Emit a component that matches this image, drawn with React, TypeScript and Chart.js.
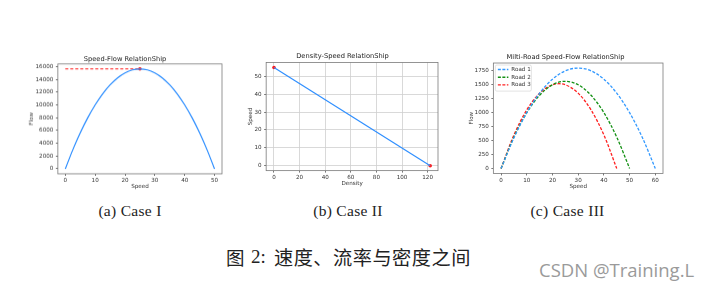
import React, { useEffect, useRef } from "react";
import { Chart, registerables } from "chart.js";

Chart.register(...registerables);

// ---------- Data ----------
// (a) Speed-Flow
const speedA = [0, 2.5, 5, 7.5, 10, 12.5, 15, 17.5, 20, 22.5, 25, 27.5, 30, 32.5, 35, 37.5, 40, 42.5, 45, 47.5, 50];
const flowA = [0, 2970, 5625, 7970, 10000, 11720, 13125, 14220, 15000, 15470, 15625, 15470, 15000, 14220, 13125, 11720, 10000, 7970, 5625, 2970, 0];
const maxFlowSpeedA = [0, 25];
const maxFlowA = [15625, 15625];
const xTicksA = [0, 10, 20, 30, 40, 50];
const yTicksA = [0, 2000, 4000, 6000, 8000, 10000, 12000, 14000, 16000];

// (b) Density-Speed
const densityB = [0, 122];
const speedB = [55, 0];
const xTicksB = [0, 20, 40, 60, 80, 100, 120];
const yTicksB = [0, 10, 20, 30, 40, 50];

// (c) Multi-road
const roadNames = ["Road 1", "Road 2", "Road 3"];
const road1Speed = [0, 5, 10, 15, 20, 25, 30, 35, 40, 45, 50, 55, 60];
const road1Flow = [0, 550, 1000, 1350, 1600, 1750, 1800, 1750, 1600, 1350, 1000, 550, 0];
const road2Speed = [0, 5, 10, 15, 20, 25, 30, 35, 40, 45, 50];
const road2Flow = [0, 562, 1000, 1312, 1500, 1562, 1500, 1312, 1000, 562, 0];
const road3Speed = [0, 5, 10, 15, 20, 22.5, 25, 30, 35, 40, 45];
const road3Flow = [0, 600, 1050, 1350, 1500, 1519, 1500, 1350, 1050, 600, 0];
const xTicksC = [0, 10, 20, 30, 40, 50, 60];
const yTicksC = [0, 250, 500, 750, 1000, 1250, 1500, 1750];

const titles = ["Speed-Flow RelationShip", "Density-Speed RelationShip", "Milti-Road Speed-Flow RelationShip"];
const captions = ["(a) Case I", "(b) Case II", "(c) Case III"];

const BLUE = "#2f8fff";
const FONT = "'DejaVu Sans', sans-serif";

const pts = (xs: number[], ys: number[]) => xs.map((x, i) => ({ x, y: ys[i] }));

// spine box plugin
const boxPlugin = {
  id: "spineBox",
  afterDatasetsDraw(chart: any) {
    const { ctx, chartArea: a } = chart;
    ctx.save();
    ctx.strokeStyle = "#7a7a7a";
    ctx.lineWidth = 0.8;
    ctx.strokeRect(a.left, a.top, a.right - a.left, a.bottom - a.top);
    ctx.restore();
  },
};

// legend inside chart area (dashed samples)
const innerLegend = {
  id: "innerLegend",
  afterDatasetsDraw(chart: any, _args: any, opts: any) {
    if (!opts || !opts.enabled) return;
    const { ctx, chartArea: a } = chart;
    const ds = chart.data.datasets;
    const x0 = a.left + 2;
    const y0 = a.top + 2;
    const w = 36;
    const rowH = 7.7;
    const h = ds.length * rowH + 3;
    ctx.save();
    ctx.fillStyle = "rgba(255,255,255,0.85)";
    ctx.strokeStyle = "#d0d0d0";
    ctx.lineWidth = 0.6;
    ctx.beginPath();
    (ctx as any).roundRect(x0, y0, w, h, 1.5);
    ctx.fill();
    ctx.stroke();
    ctx.font = `5.6px ${FONT}`;
    ctx.textBaseline = "middle";
    ds.forEach((d: any, i: number) => {
      const cy = y0 + 4.5 + i * rowH;
      ctx.strokeStyle = d.borderColor;
      ctx.lineWidth = 1.4;
      ctx.setLineDash([3, 1.5]);
      ctx.beginPath();
      ctx.moveTo(x0 + 2.5, cy);
      ctx.lineTo(x0 + 13, cy);
      ctx.stroke();
      ctx.setLineDash([]);
      ctx.fillStyle = "#333";
      ctx.fillText(d.label, x0 + 16, cy);
    });
    ctx.restore();
  },
};

type Spec = {
  L: number; R: number; T: number; B: number;
  titleY: number; yTitleX: number; xTitleY: number;
  xMin: number; xMax: number; yMin: number; yMax: number;
  xTicks: number[]; yTicks: number[];
  xLabel: string; yLabel: string; title: string;
  grid: boolean;
  datasets: any[];
  legend?: boolean;
};

const TITLE_FS = 6.7;
const AX_FS = 5.6;

function makeConfig(s: Spec) {
  const titleLH = TITLE_FS * 1.2;
  const axLH = AX_FS * 1.2;
  const top = s.titleY - titleLH / 2;
  const left = s.yTitleX - axLH / 2;
  const bottom = s.xTitleY + axLH / 2;
  const right = s.R + 6;
  const yW = s.L - left;
  const xH = bottom - s.B;
  const titlePadBottom = s.T - (top + titleLH);
  const gridOpt = (tl: number) => ({
    display: true,
    drawOnChartArea: s.grid,
    drawTicks: true,
    tickLength: tl,
    color: "#cfcfcf",
    tickColor: "#555",
    lineWidth: 0.8,
  });
  const tickFont = { family: FONT, size: AX_FS };
  const fmt = (v: any) => String(v);
  return {
    canvas: { left, top, width: right - left, height: bottom - top },
    config: {
      type: "scatter",
      data: { datasets: s.datasets },
      options: {
        animation: false,
        responsive: false,
        maintainAspectRatio: false,
        devicePixelRatio: 1,
        layout: { padding: { left: 0, top: 0, right: 6, bottom: 0 } },
        plugins: {
          legend: { display: false },
          tooltip: { enabled: false },
          title: {
            display: true,
            text: s.title,
            color: "#222",
            font: { family: FONT, size: TITLE_FS, weight: "normal" },
            padding: { top: 0, bottom: titlePadBottom },
          },
          innerLegend: { enabled: !!s.legend },
        },
        scales: {
          x: {
            type: "linear",
            min: s.xMin,
            max: s.xMax,
            afterBuildTicks: (sc: any) => { sc.ticks = s.xTicks.map((v) => ({ value: v })); },
            afterFit: (sc: any) => { sc.height = xH; },
            ticks: { font: tickFont, color: "#333", padding: 1.5, maxRotation: 0, autoSkip: false, callback: fmt },
            grid: gridOpt(2),
            border: { display: false },
            title: { display: true, text: s.xLabel, color: "#333", font: tickFont, padding: 0 },
          },
          y: {
            type: "linear",
            min: s.yMin,
            max: s.yMax,
            afterBuildTicks: (sc: any) => { sc.ticks = s.yTicks.map((v) => ({ value: v })); },
            afterFit: (sc: any) => { sc.width = yW; },
            ticks: { font: tickFont, color: "#333", padding: 2.5, autoSkip: false, callback: fmt },
            grid: gridOpt(2),
            border: { display: false },
            title: { display: true, text: s.yLabel, color: "#333", font: tickFont, padding: 0 },
          },
        },
      },
      plugins: [boxPlugin, innerLegend],
    },
  };
}

const line = (data: any[], color: string, width: number, dash: number[] = [], smooth = true) => ({
  data,
  borderColor: color,
  backgroundColor: color,
  borderWidth: width,
  borderDash: dash,
  showLine: true,
  pointRadius: 0,
  tension: smooth ? 0.4 : 0,
  cubicInterpolationMode: smooth ? "monotone" : "default",
  fill: false,
});

const dots = (data: any[], color: string) => ({
  data,
  borderColor: color,
  backgroundColor: color,
  pointRadius: 1.8,
  pointBorderWidth: 0,
  showLine: false,
});

const specs: Spec[] = [
  {
    L: 57.5, R: 222.5, T: 64.3, B: 174,
    titleY: 59.5, yTitleX: 31, xTitleY: 186.7,
    xMin: -2.5, xMax: 52.5, yMin: -781, yMax: 16406,
    xTicks: xTicksA, yTicks: yTicksA,
    xLabel: "Speed", yLabel: "Flow", title: titles[0], grid: false,
    datasets: [
      line(pts(speedA, flowA), BLUE, 1.2),
      line(pts(maxFlowSpeedA, maxFlowA), "#ff1a1a", 1, [3, 2], false),
      dots([{ x: maxFlowSpeedA[1], y: maxFlowA[1] }], "#ff1a1a"),
    ],
  },
  {
    L: 266.5, R: 438.5, T: 62.5, B: 171,
    titleY: 56, yTitleX: 250.7, xTitleY: 184,
    xMin: -6.1, xMax: 128.1, yMin: -2.75, yMax: 57.75,
    xTicks: xTicksB, yTicks: yTicksB,
    xLabel: "Density", yLabel: "Speed", title: titles[1], grid: true,
    datasets: [
      line(pts(densityB, speedB), BLUE, 1.2, [], false),
      dots(pts(densityB, speedB), "#ff1a1a"),
    ],
  },
  {
    L: 493, R: 663, T: 62.7, B: 173.5,
    titleY: 56.7, yTitleX: 471, xTitleY: 186.7,
    xMin: -3, xMax: 63, yMin: -90, yMax: 1890,
    xTicks: xTicksC, yTicks: yTicksC,
    xLabel: "Speed", yLabel: "Flow", title: titles[2], grid: false, legend: true,
    datasets: [
      { ...line(pts(road1Speed, road1Flow), "#3399ff", 1.3, [3, 1.6]), label: roadNames[0] },
      { ...line(pts(road2Speed, road2Flow), "#139013", 1.3, [3, 1.6]), label: roadNames[1] },
      { ...line(pts(road3Speed, road3Flow), "#ff2020", 1.3, [3, 1.6]), label: roadNames[2] },
    ],
  },
];

function SubChart({ spec }: { spec: Spec }) {
  const ref = useRef<HTMLCanvasElement>(null);
  const { canvas, config } = makeConfig(spec);
  useEffect(() => {
    if (!ref.current) return;
    const ch = new Chart(ref.current, config as any);
    return () => ch.destroy();
  }, []);
  return (
    <div
      style={{
        position: "absolute",
        left: canvas.left,
        top: canvas.top,
        width: canvas.width,
        height: canvas.height,
      }}
    >
      <canvas ref={ref} width={canvas.width} height={canvas.height} style={{ width: canvas.width, height: canvas.height }} />
    </div>
  );
}

const serif = "'Liberation Serif', 'DejaVu Serif', serif";

export default function App() {
  const capX = [130, 348, 567.5];
  return (
    <div style={{ position: "absolute", left: 0, top: 0, width: 715, height: 290, background: "#fff", overflow: "hidden" }}>
      {specs.map((s, i) => (
        <SubChart key={i} spec={s} />
      ))}
      {captions.map((c, i) => (
        <div
          key={c}
          style={{
            position: "absolute",
            left: capX[i] - 60,
            width: 120,
            top: 202,
            textAlign: "center",
            fontFamily: serif,
            fontSize: 15.5,
            lineHeight: "18px",
            color: "#222",
            whiteSpace: "nowrap",
            letterSpacing: 0.3,
          }}
        >
          {c}
        </div>
      ))}
      <div style={{ position: "absolute", left: 226, top: 245, fontFamily: "'Noto Sans CJK SC', sans-serif", fontSize: 18.5, lineHeight: "24px", color: "#222", whiteSpace: "nowrap" }}>
        图
      </div>
      <div style={{ position: "absolute", left: 251, top: 245, fontFamily: serif, fontSize: 19, lineHeight: "24px", color: "#222", whiteSpace: "nowrap" }}>
        2:
      </div>
      <div style={{ position: "absolute", left: 274, top: 245, fontFamily: "'Noto Sans CJK SC', sans-serif", fontSize: 19.2, lineHeight: "24px", color: "#222", whiteSpace: "nowrap", letterSpacing: 0.5 }}>
        速度、流率与密度之间
      </div>
      <div style={{ position: "absolute", left: 539, top: 257, fontFamily: "'Open Sans', 'Noto Sans', sans-serif", fontSize: 18.5, lineHeight: "26px", color: "#9a9a9a", whiteSpace: "nowrap" }}>
        CSDN @Training.L
      </div>
    </div>
  );
}
